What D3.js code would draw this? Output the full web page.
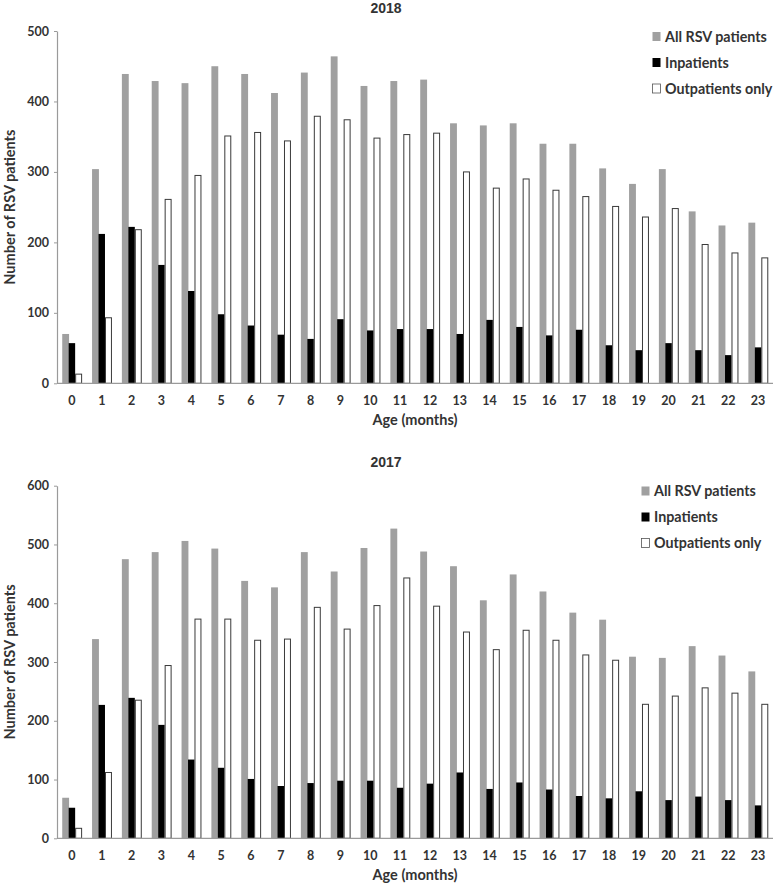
<!DOCTYPE html>
<html>
<head>
<meta charset="utf-8">
<script src="https://cdnjs.cloudflare.com/ajax/libs/d3/7.8.5/d3.min.js"></script>
<style>
  html, body { margin: 0; padding: 0; background: #fff; }
  svg { display: block; }
  text { font-family: Lato, "Open Sans", sans-serif; font-weight: bold; fill: #333; }
</style>
</head>
<body>
<svg id="chart" width="776" height="886"></svg>
<script>
// ---- data ----
const ages = ["0","1","2","3","4","5","6","7","8","9","10","11","12","13","14","15","16","17","18","19","20","21","22","23"];
const seriesNames = ["All RSV patients", "Inpatients", "Outpatients only"];

const all2018 = [70, 304, 439, 429, 426, 450, 439, 412, 441, 464, 422, 429, 431, 369, 366, 369, 340, 340, 305, 283, 304, 244, 224, 228];
const inp2018 = [57, 212, 222, 168, 131, 98, 82, 69, 63, 91, 75, 77, 77, 70, 90, 80, 68, 76, 54, 47, 57, 47, 40, 51];
const out2018 = [13, 93, 218, 261, 295, 351, 356, 344, 379, 374, 348, 353, 355, 300, 277, 290, 274, 265, 251, 236, 248, 197, 185, 178];
const yTicks2018 = [0, 100, 200, 300, 400, 500];

const all2017 = [69, 339, 475, 487, 506, 493, 438, 427, 487, 454, 494, 527, 488, 463, 405, 449, 420, 384, 372, 309, 307, 327, 311, 284];
const inp2017 = [52, 227, 239, 193, 134, 120, 101, 89, 94, 98, 98, 86, 93, 112, 84, 95, 83, 72, 68, 80, 65, 71, 65, 56];
const out2017 = [17, 112, 235, 294, 373, 373, 337, 339, 393, 356, 396, 443, 395, 351, 321, 354, 337, 312, 303, 228, 242, 256, 247, 228];
const yTicks2017 = [0, 100, 200, 300, 400, 500, 600];

const titles = ["2018", "2017"];
const xTitle = "Age (months)";
const yTitle = "Number of RSV patients";

// ---- styles ----
const fills = ["#a0a0a0", "#000000", "#ffffff"];
const strokes = ["none", "none", "#3a3a3a"];
const axisColor = "#9a9a9a";

const svg = d3.select("#chart");

function drawChart(cfg) {
  const g = svg.append("g");
  const x = d3.scaleBand().domain(ages).range([cfg.left, cfg.right]).paddingInner(0.35).paddingOuter(0.175);
  const x1 = d3.scaleBand().domain(d3.range(3)).range([0, x.bandwidth()]).padding(0);
  const y = d3.scaleLinear().domain([0, cfg.max]).range([cfg.bottom, cfg.top]);

  const rows = ages.map((a, i) => ({ age: a, vals: [cfg.all[i], cfg.inp[i], cfg.out[i]] }));

  // bars
  const grp = g.selectAll("g.cat").data(rows).join("g")
    .attr("transform", d => `translate(${x(d.age)},0)`);
  grp.selectAll("rect").data(d => d.vals.map((v, k) => ({ v, k }))).join("rect")
    .attr("x", d => x1(d.k) + (d.k === 2 ? 0.5 : 0))
    .attr("width", d => x1.bandwidth() - (d.k === 2 ? 0.5 : 0) + (d.k === 0 ? 0.4 : 0))
    .attr("y", d => y(d.v))
    .attr("height", d => cfg.bottom - y(d.v))
    .attr("fill", d => fills[d.k])
    .attr("stroke", d => strokes[d.k])
    .attr("stroke-width", 1);

  // y axis
  const yAxis = d3.axisLeft(y).tickValues(cfg.ticks).tickSize(3).tickPadding(5).tickSizeOuter(0);
  const ya = g.append("g").attr("transform", `translate(${cfg.left},0)`).call(yAxis);
  ya.select(".domain").attr("stroke", axisColor).attr("stroke-width", 1.2);
  ya.selectAll(".tick line").attr("stroke", axisColor);
  ya.selectAll(".tick text").style("font-size", "12.5px").style("font-family", "Lato, sans-serif").style("font-weight", "bold").attr("fill", "#333");

  // x axis
  const xAxis = d3.axisBottom(x).tickSize(0).tickPadding(13);
  const xa = g.append("g").attr("transform", `translate(0,${cfg.bottom})`).call(xAxis);
  xa.select(".domain").attr("stroke", axisColor).attr("stroke-width", 1.2).attr("d", `M${cfg.left},0H${cfg.right}`);
  xa.selectAll(".tick text").style("font-size", "12.5px").style("font-family", "Lato, sans-serif").style("font-weight", "bold").attr("fill", "#333");

  // title
  g.append("text").attr("x", cfg.titleX).attr("y", cfg.titleY)
    .attr("text-anchor", "middle")
    .style("font-family", "'Liberation Sans', Arial, sans-serif")
    .style("font-size", "14px").style("font-weight", "bold").attr("fill", "#2a2a2a")
    .text(cfg.title);

  // x title
  g.append("text").attr("x", (cfg.left + cfg.right) / 2).attr("y", cfg.xTitleY)
    .attr("text-anchor", "middle").style("font-size", "14.5px").text(xTitle);

  // y title
  g.append("text")
    .attr("transform", `translate(${cfg.yTitleX},${(cfg.top + cfg.bottom) / 2}) rotate(-90)`)
    .attr("text-anchor", "middle").style("font-size", "14.5px").text(yTitle);

  // legend
  const lg = g.append("g").attr("transform", `translate(${cfg.legX},${cfg.legY})`);
  seriesNames.forEach((name, k) => {
    const r = lg.append("g").attr("transform", `translate(0,${k * 26})`);
    r.append("rect").attr("x", 0.5).attr("y", -4.5).attr("width", 8).attr("height", 9)
      .attr("fill", fills[k]).attr("stroke", k === 2 ? "#555" : "none").attr("stroke-width", 0.8);
    r.append("text").attr("x", 13).attr("y", 5).style("font-size", "14.3px").text(name);
  });
}

drawChart({
  left: 57, right: 773, top: 31, bottom: 383.3, max: 500, ticks: yTicks2018,
  all: all2018, inp: inp2018, out: out2018, title: titles[0],
  titleX: 386, titleY: 13, xTitleY: 425, yTitleX: 15, legX: 652, legY: 36.5
});

drawChart({
  left: 57, right: 773, top: 485.7, bottom: 838.3, max: 600, ticks: yTicks2017,
  all: all2017, inp: inp2017, out: out2017, title: titles[1],
  titleX: 386, titleY: 467, xTitleY: 880, yTitleX: 14.5, legX: 641, legY: 491
});
</script>
</body>
</html>
